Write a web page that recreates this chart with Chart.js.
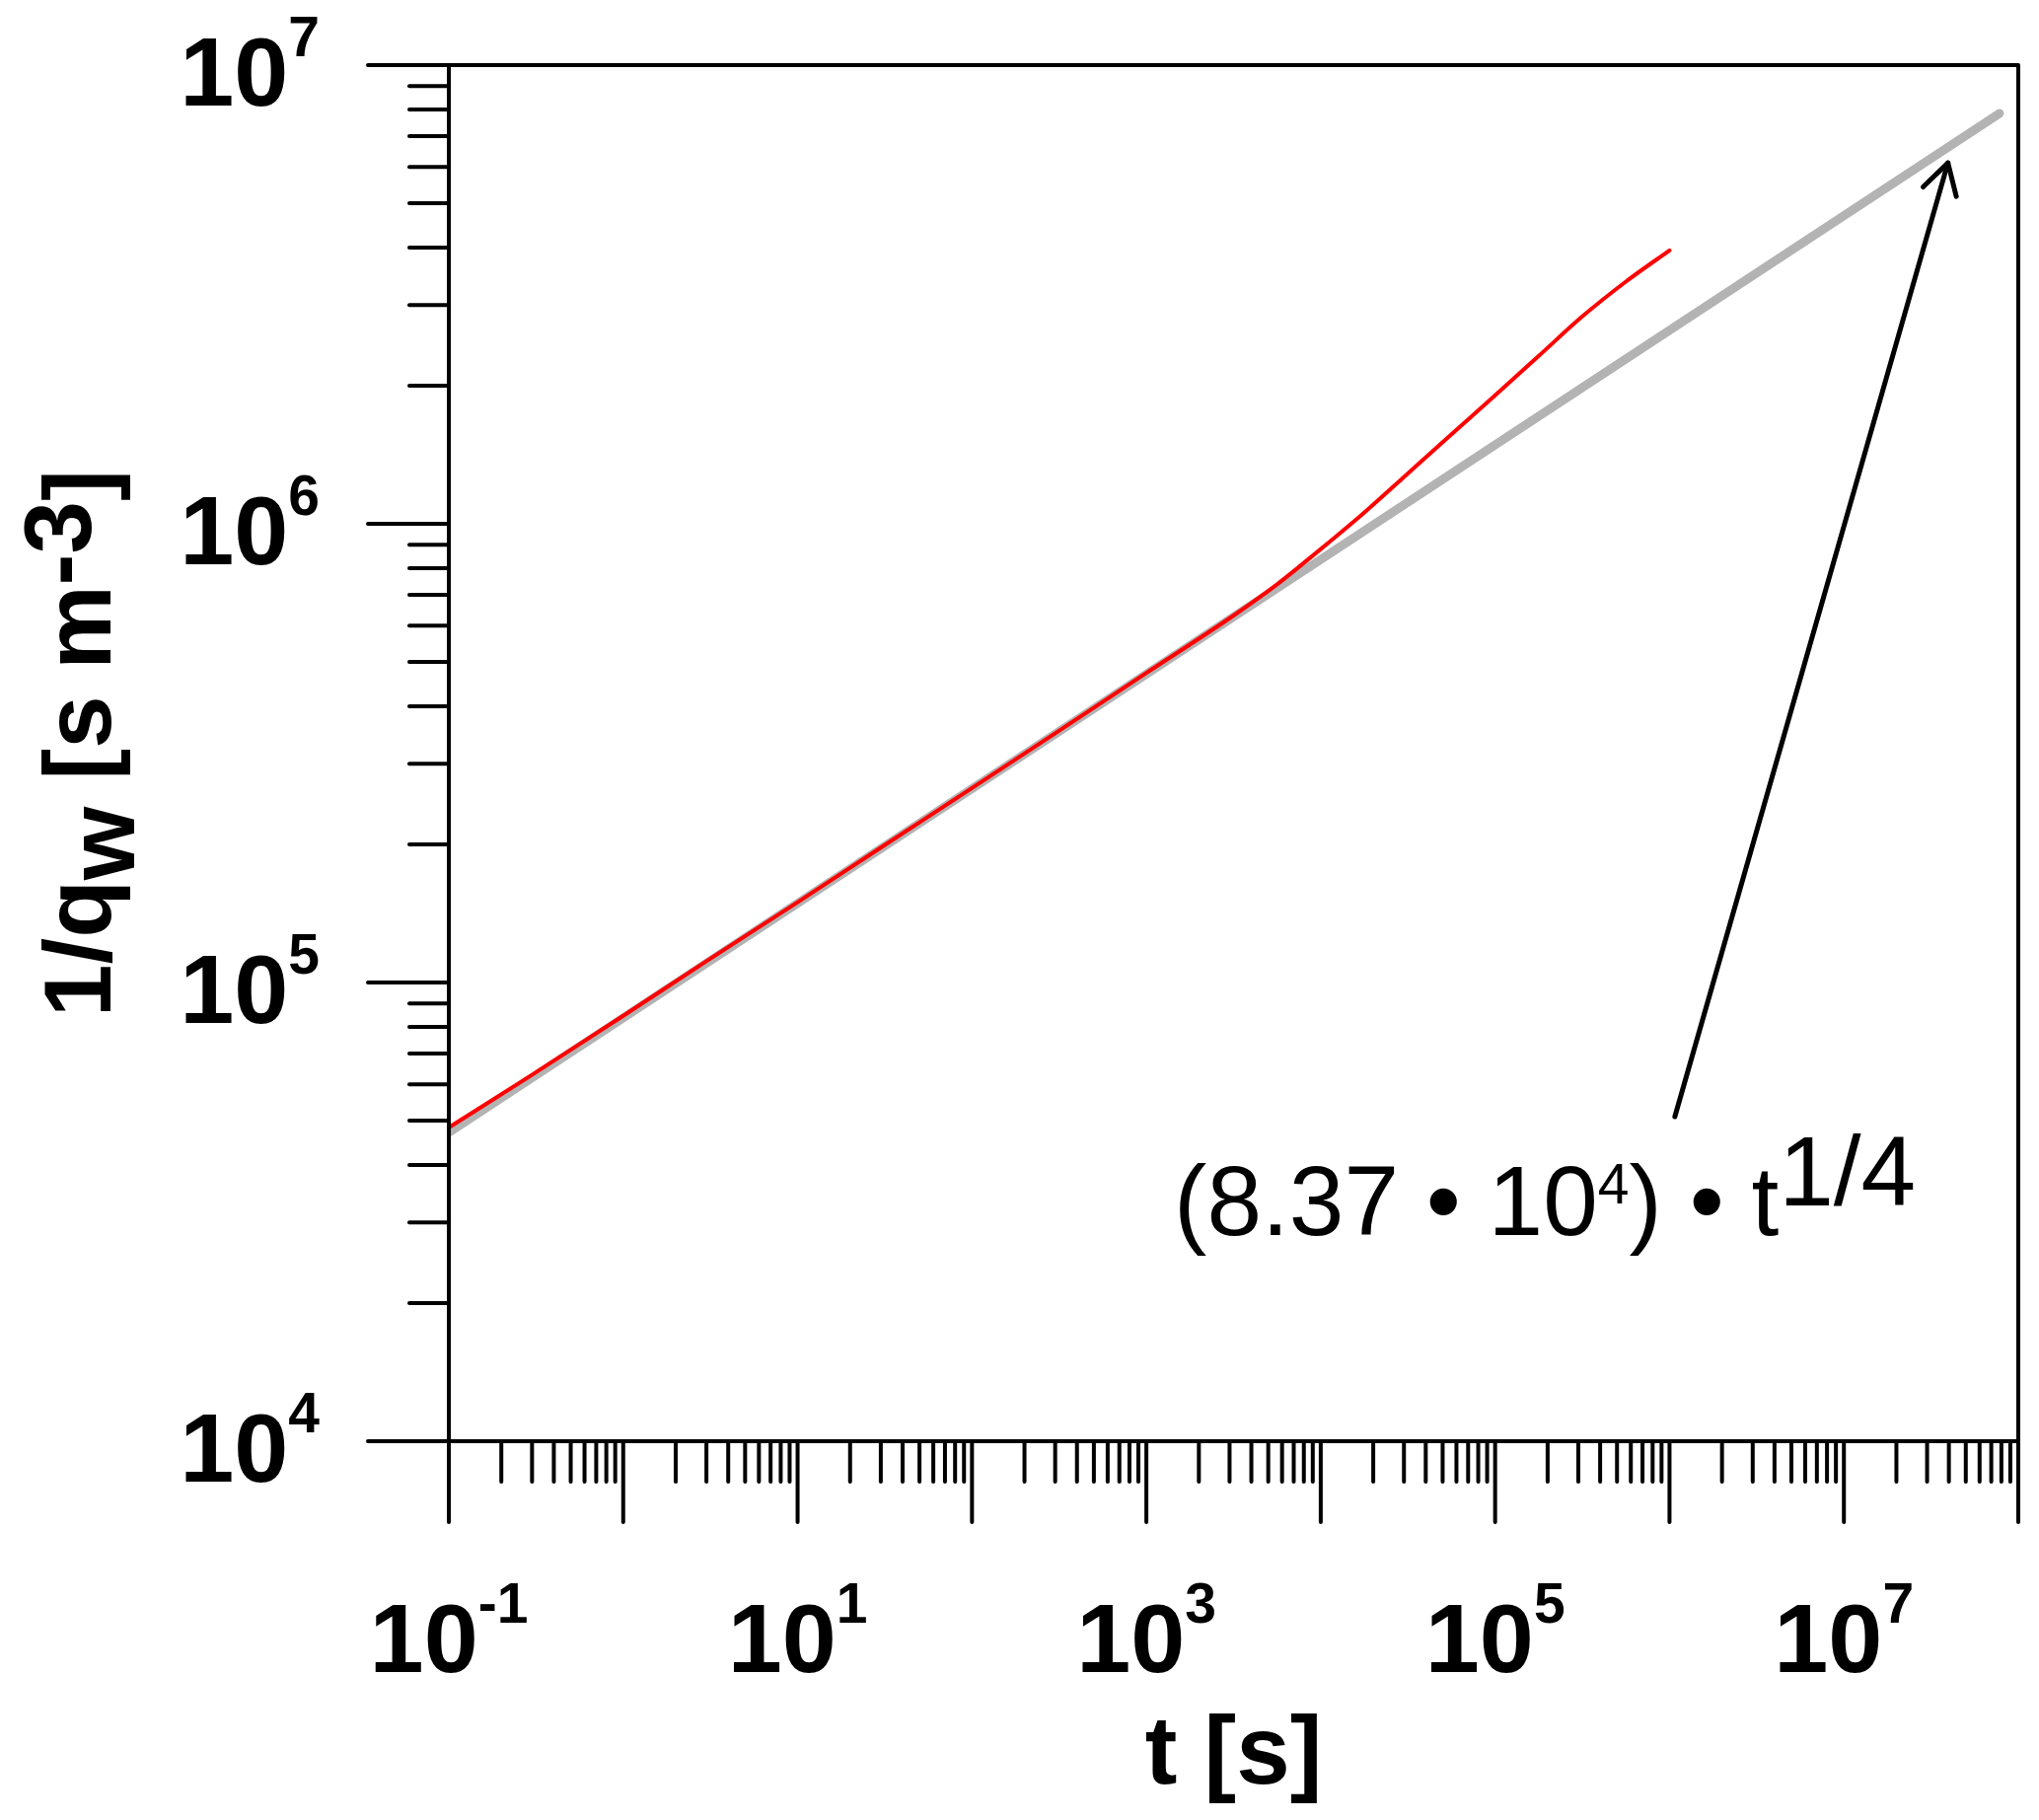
<!DOCTYPE html>
<html>
<head>
<meta charset="utf-8">
<style>
html,body{margin:0;padding:0;background:#ffffff;}
canvas{display:block;}
</style>
<script src="https://cdn.jsdelivr.net/npm/chart.js@4.4.1/dist/chart.umd.min.js"></script>
</head>
<body>
<canvas id="c" width="2067" height="1845" style="width:2067px;height:1845px"></canvas>
<script>
// ---- data ----
const modelT = [0.1, 0.3, 1, 3, 10, 30, 100, 300, 1000, 3160, 5620, 10000, 17800, 31600, 56200, 100000, 178000, 316000, 562000, 1000000];
const modelQ = [4.83e4, 6.29e4, 8.46e4, 1.113e5, 1.496e5, 1.968e5, 2.655e5, 3.495e5, 4.73e5, 6.31e5, 7.38e5, 8.81e5, 1.059e6, 1.288e6, 1.567e6, 1.905e6, 2.323e6, 2.831e6, 3.373e6, 3.945e6];
const fitT = [0.1, 7.8e7];
const fitQ = [4.71e4, 7.85e6];
const xDecades = [-1, 0, 1, 2, 3, 4, 5, 6, 7, 8];
const yDecades = [4, 5, 6, 7];
const xLabelDecades = [-1, 1, 3, 5, 7];
const yLabelDecades = [4, 5, 6, 7];
const xTitle = "t [s]";
const yTitleParts = [["1/q", 0], ["w", 24], [" [s m", 0], ["-3", -20], ["]", 0]];
const annoParts = [["(8.37 \u2022 10", 0, 100], ["4", -32, 57], [") \u2022 t", 0, 100], ["1/4", -30, 100]];
const annoAnchor = {t: 1.44e3, q: 2.815e4};
const arrowFrom = {t: 1.073e6, q: 5.10e4};
const arrowTo = {t: 3.95e7, q: 6.12e6};

const FONT = '"Liberation Sans", Arial, Helvetica, sans-serif';

const axesPlugin = {
  id: 'axesPlugin',
  afterDraw(chart) {
    const ctx = chart.ctx;
    const xs = chart.scales.x, ys = chart.scales.y;
    const a = chart.chartArea;
    ctx.save();
    ctx.strokeStyle = '#000';
    ctx.fillStyle = '#000';
    ctx.lineWidth = 4;
    ctx.lineCap = 'round';
    ctx.lineJoin = 'round';
    const seg = (x1, y1, x2, y2) => { ctx.beginPath(); ctx.moveTo(x1, y1); ctx.lineTo(x2, y2); ctx.stroke(); };

    // box
    ctx.beginPath();
    ctx.rect(a.left, a.top, a.right - a.left, a.bottom - a.top);
    ctx.stroke();

    // y ticks
    yDecades.forEach((k, i) => {
      const py = ys.getPixelForValue(Math.pow(10, k));
      seg(a.left - 82, py, a.left, py);
      if (i < yDecades.length - 1) {
        for (let m = 2; m <= 9; m++) {
          const p = ys.getPixelForValue(m * Math.pow(10, k));
          seg(a.left - 40, p, a.left, p);
        }
      }
    });
    // x ticks
    xDecades.forEach((k, i) => {
      const px = xs.getPixelForValue(Math.pow(10, k));
      seg(px, a.bottom, px, a.bottom + 82);
      if (i < xDecades.length - 1) {
        for (let m = 2; m <= 9; m++) {
          const p = xs.getPixelForValue(m * Math.pow(10, k));
          seg(p, a.bottom, p, a.bottom + 41);
        }
      }
    });

    // tick labels
    const big = 'bold 99px ' + FONT, small = 'bold 57px ' + FONT;
    ctx.textBaseline = 'alphabetic';
    ctx.textAlign = 'left';
    yLabelDecades.forEach(k => {
      const py = ys.getPixelForValue(Math.pow(10, k));
      const e = String(k);
      ctx.font = big; const w1 = ctx.measureText('10').width;
      ctx.font = small; const w2 = ctx.measureText(e).width;
      const x0 = 324 - w1 - w2;
      ctx.font = big; ctx.fillText('10', x0, py + 41);
      ctx.font = small; ctx.fillText(e, x0 + w1, py - 9);
    });
    xLabelDecades.forEach(k => {
      const px = xs.getPixelForValue(Math.pow(10, k));
      const e = String(k);
      ctx.font = big; const w1 = ctx.measureText('10').width;
      ctx.font = small; const w2 = ctx.measureText(e).width;
      const x0 = px - (w1 + w2) / 2;
      ctx.font = big; ctx.fillText('10', x0, a.bottom + 234);
      ctx.font = small; ctx.fillText(e, x0 + w1, a.bottom + 184);
    });

    // x title
    ctx.font = 'bold 98px ' + FONT;
    ctx.textAlign = 'center';
    ctx.fillText(xTitle, (a.left + a.right) / 2, 1808);

    // y title
    ctx.save();
    ctx.translate(112, (a.top + a.bottom) / 2 - 10);
    ctx.rotate(-Math.PI / 2);
    ctx.textAlign = 'left';
    ctx.font = 'bold 96px ' + FONT;
    let tot = 0;
    yTitleParts.forEach(p => { tot += ctx.measureText(p[0]).width; });
    let cx = -tot / 2;
    yTitleParts.forEach(p => { ctx.fillText(p[0], cx, p[1]); cx += ctx.measureText(p[0]).width; });
    ctx.restore();

    // annotation text
    let ax = xs.getPixelForValue(annoAnchor.t);
    const ab = ys.getPixelForValue(annoAnchor.q);
    ctx.textAlign = 'left';
    annoParts.forEach(p => {
      ctx.font = p[2] + 'px ' + FONT;
      ctx.fillText(p[0], ax, ab + p[1]);
      ax += ctx.measureText(p[0]).width;
    });

    // arrow
    const x1 = xs.getPixelForValue(arrowFrom.t), y1 = ys.getPixelForValue(arrowFrom.q);
    const x2 = xs.getPixelForValue(arrowTo.t), y2 = ys.getPixelForValue(arrowTo.q);
    ctx.lineWidth = 5;
    seg(x1, y1, x2, y2);
    const ang = Math.atan2(y1 - y2, x1 - x2);
    const L = 35, h = Math.PI / 6;
    ctx.beginPath();
    ctx.moveTo(x2 + L * Math.cos(ang + h), y2 + L * Math.sin(ang + h));
    ctx.lineTo(x2, y2);
    ctx.lineTo(x2 + L * Math.cos(ang - h), y2 + L * Math.sin(ang - h));
    ctx.stroke();

    ctx.restore();
  }
};

const ctxEl = document.getElementById('c');
new Chart(ctxEl, {
  type: 'scatter',
  data: {
    datasets: [
      {
        label: 'model',
        data: modelT.map((t, i) => ({x: t, y: modelQ[i]})),
        showLine: true,
        borderColor: '#ff0000',
        borderWidth: 4,
        pointRadius: 0,
        borderCapStyle: 'round',
        borderJoinStyle: 'round',
        cubicInterpolationMode: 'monotone',
        order: 0
      },
      {
        label: 'fit',
        data: fitT.map((t, i) => ({x: t, y: fitQ[i]})),
        showLine: true,
        borderColor: '#b3b3b3',
        borderWidth: 9,
        pointRadius: 0,
        borderCapStyle: 'round',
        order: 1
      }
    ]
  },
  options: {
    responsive: false,
    animation: false,
    devicePixelRatio: 1,
    events: [],
    layout: {padding: {left: 455, right: 21, top: 66, bottom: 384}},
    plugins: {legend: {display: false}, tooltip: {enabled: false}},
    scales: {
      x: {type: 'logarithmic', min: 0.1, max: 1e8, display: false},
      y: {type: 'logarithmic', min: 1e4, max: 1e7, display: false}
    }
  },
  plugins: [axesPlugin]
});
</script>
</body>
</html>
